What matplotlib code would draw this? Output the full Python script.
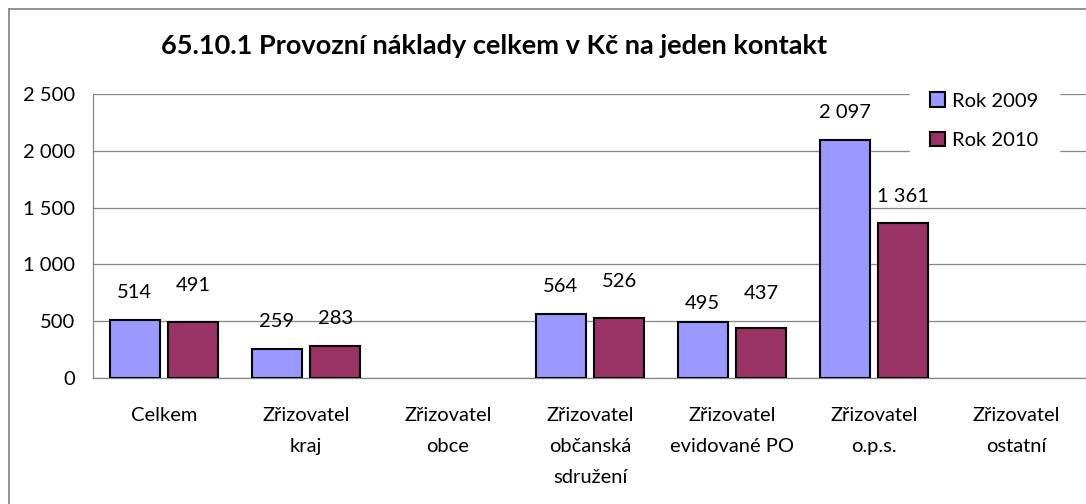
import matplotlib
matplotlib.use("Agg")
import matplotlib.pyplot as plt
import numpy as np
from matplotlib.lines import Line2D

categories = ["Celkem", "Zřizovatel\nkraj", "Zřizovatel\nobce",
              "Zřizovatel\nobčanská\nsdružení", "Zřizovatel\nevidované PO",
              "Zřizovatel\no.p.s.", "Zřizovatel\nostatní"]
values_2009 = [514, 259, np.nan, 564, 495, 2097, np.nan]
values_2010 = [491, 283, np.nan, 526, 437, 1361, np.nan]
series_names = ["Rok 2009", "Rok 2010"]
title = "65.10.1 Provozní náklady celkem v Kč na jeden kontakt"
yticks = [0, 500, 1000, 1500, 2000, 2500]

# label offsets above bar tops (pixels), as placed in the original
label_dy_2009 = [27, 27, 0, 27, 18, 27, 0]
label_dy_2010 = [37, 27, 0, 37, 35, 27, 0]

plt.rcParams['font.family'] = ['Lato', 'DejaVu Sans']

W, H = 1086, 504
fig = plt.figure(figsize=(W / 100, H / 100), dpi=100)
fig.patch.set_facecolor("white")

ax = fig.add_axes([93 / W, 1 - 378 / H, (1087 - 93) / W, (378 - 94) / H])

x = np.arange(len(categories))
bw = 0.352
off = 0.206
c1, c2 = "#9999FF", "#993366"
FS = 14.5
ax.bar(x - off, values_2009, bw, color=c1, edgecolor="black", linewidth=1.5, label=series_names[0], zorder=3)
ax.bar(x + off, values_2010, bw, color=c2, edgecolor="black", linewidth=1.5, label=series_names[1], zorder=3)

def fmt(v):
    return f"{int(v):,}".replace(",", " ")

for xs, vals, dys in ((x - off, values_2009, label_dy_2009), (x + off, values_2010, label_dy_2010)):
    for xi, v, dy in zip(xs, vals, dys):
        if np.isnan(v):
            continue
        ax.annotate(fmt(v), (xi, v), xytext=(0, dy * 0.72), textcoords="offset points",
                    ha="center", va="center", fontsize=FS, color="black", zorder=4)

ax.set_xlim(-0.5, len(categories) - 0.5)
ax.set_ylim(0, 2500)
ax.set_yticks(yticks)
ax.set_yticklabels([fmt(t) for t in yticks], fontsize=FS)
ax.set_xticks(x)
ax.set_xticklabels(categories, fontsize=FS, linespacing=2.0, multialignment="center")
ax.tick_params(axis="both", length=0)
ax.tick_params(axis="y", pad=13)
ax.tick_params(axis="x", pad=21)

ax.yaxis.grid(True, color="#868686", linewidth=0.9, zorder=0)
ax.set_axisbelow(True)
for s in ["top", "right"]:
    ax.spines[s].set_visible(False)
for s in ["left", "bottom"]:
    ax.spines[s].set_color("#868686")
    ax.spines[s].set_linewidth(0.9)

leg = ax.legend(loc="upper left", bbox_to_anchor=(910 / W, 1 - 72 / H),
                bbox_transform=fig.transFigure, fontsize=FS, frameon=True,
                fancybox=False, edgecolor="white", facecolor="white", framealpha=1,
                handlelength=0.75, handleheight=0.75, handletextpad=0.35,
                labelspacing=1.1, borderpad=1.0, borderaxespad=0)
leg.set_zorder(5)

fig.text(494 / W, 1 - 46 / H, title, ha="center", va="center",
         fontsize=19.5, fontweight="bold")

# outer chart border
fig.add_artist(Line2D([8.5 / W, 1.0], [1 - 8.5 / H, 1 - 8.5 / H], color="#8a8a8a", linewidth=1.3, transform=fig.transFigure))
fig.add_artist(Line2D([8.5 / W, 8.5 / W], [0, 1 - 8.5 / H], color="#8a8a8a", linewidth=1.3, transform=fig.transFigure))

fig.savefig("out.png", dpi=100)
